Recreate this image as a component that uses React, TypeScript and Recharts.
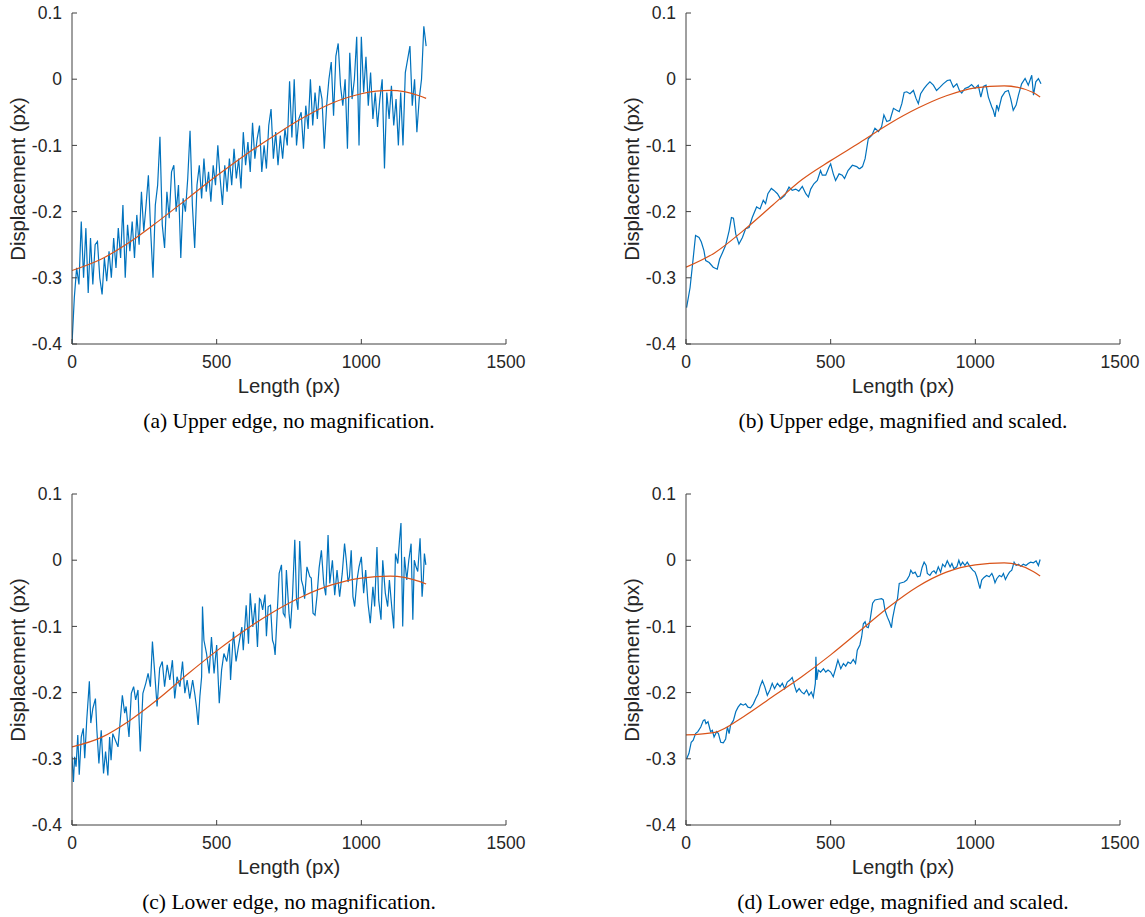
import React from "react";
import { Line, LineChart, XAxis, YAxis } from "recharts";

const BLUE = "#0072BD";
const ORANGE = "#D95319";
const AXIS = "#404040";
const TEXT = "#262626";

const X_TICKS = [0, 500, 1000, 1500];
const Y_TICKS = [-0.4, -0.3, -0.2, -0.1, 0, 0.1];

// sample positions of the polynomial fits
const FIT_X = [0, 100, 200, 300, 400, 500, 600, 700, 800, 900, 1000, 1100, 1200, 1224];

// (a) upper edge, no magnification
const upperRawX = [
  0, 8, 16, 24, 32, 40, 48, 56, 64, 72, 80, 88, 96, 104, 112, 120, 128, 136, 144, 152,
  160, 168, 176, 184, 192, 200, 208, 216, 224, 232, 240, 248, 256, 264, 272, 280, 288, 296, 304, 312,
  320, 328, 336, 344, 352, 360, 368, 376, 384, 392, 400, 408, 416, 424, 432, 440, 448, 456, 464, 472,
  480, 488, 496, 504, 512, 520, 528, 536, 544, 552, 560, 568, 576, 584, 592, 600, 608, 616, 624, 632,
  640, 648, 656, 664, 672, 680, 688, 696, 704, 712, 720, 728, 736, 744, 752, 760, 768, 776, 784, 792,
  800, 808, 816, 824, 832, 840, 848, 856, 864, 872, 880, 888, 896, 904, 912, 920, 928, 936, 944, 952,
  960, 968, 976, 984, 992, 1000, 1008, 1016, 1024, 1032, 1040, 1048, 1056, 1064, 1072, 1080, 1088, 1096, 1104, 1112,
  1120, 1128, 1136, 1144, 1152, 1160, 1168, 1176, 1184, 1192, 1200, 1208, 1216, 1224,
];
const upperRawY = [
  -0.4, -0.33, -0.285, -0.31, -0.215, -0.3, -0.225, -0.323, -0.24, -0.31, -0.25, -0.245, -0.3, -0.325, -0.27, -0.305, -0.26, -0.3, -0.24, -0.285,
  -0.225, -0.27, -0.19, -0.3, -0.22, -0.26, -0.215, -0.27, -0.205, -0.25, -0.17, -0.23, -0.19, -0.145, -0.23, -0.3, -0.19, -0.16, -0.087, -0.22,
  -0.255, -0.17, -0.21, -0.14, -0.13, -0.2, -0.16, -0.27, -0.18, -0.2, -0.15, -0.078, -0.19, -0.255, -0.16, -0.13, -0.18, -0.12, -0.17, -0.14,
  -0.185, -0.13, -0.16, -0.1, -0.15, -0.19, -0.13, -0.17, -0.12, -0.16, -0.105, -0.15, -0.12, -0.165, -0.08, -0.13, -0.095, -0.14, -0.066, -0.12,
  -0.09, -0.07, -0.14, -0.1, -0.135, -0.07, -0.045, -0.12, -0.08, -0.13, -0.085, -0.12, -0.075, -0.1, -0.003, -0.088, 0.0, -0.1, -0.06, -0.05,
  -0.105, -0.04, -0.075, 0.0, -0.07, -0.02, -0.06, -0.01, -0.03, -0.105, -0.04, 0.0, 0.026, -0.055, 0.035, 0.054, -0.01, -0.04, 0.0, -0.105,
  0.04, -0.03, 0.0, 0.064, -0.1, 0.064, -0.02, 0.034, -0.04, 0.01, -0.06, -0.02, -0.072, -0.03, 0.0, -0.135, -0.02, -0.06, -0.01, -0.07,
  -0.03, -0.1, -0.02, -0.1, 0.01, 0.03, 0.05, -0.04, 0.0, -0.08, -0.03, 0.0, 0.08, 0.05,
];
const upperRawFit = [-0.289, -0.272, -0.246, -0.214, -0.18, -0.146, -0.114, -0.085, -0.058, -0.036, -0.022, -0.017, -0.025, -0.029];

// (b) upper edge, magnified and scaled
const upperMagX = [
  2, 14, 24, 33, 45, 53, 62, 68, 80, 94, 108, 116, 126, 137, 149, 157, 164, 172, 183, 195,
  206, 218, 229, 244, 256, 267, 275, 283, 295, 304, 316, 327, 341, 356, 367, 379, 390, 402, 414, 423,
  431, 442, 454, 465, 471, 483, 494, 500, 509, 517, 529, 540, 548, 560, 575, 590, 598, 601, 610, 619,
  630, 642, 653, 665, 676, 684, 694, 705, 717, 728, 737, 746, 754, 763, 774, 786, 795, 803, 811, 823,
  832, 843, 855, 866, 878, 889, 903, 913, 924, 936, 945, 953, 964, 976, 987, 999, 1010, 1019, 1028, 1037,
  1045, 1057, 1062, 1068, 1074, 1080, 1091, 1103, 1114, 1122, 1131, 1141, 1149, 1160, 1172, 1183, 1195, 1201, 1209, 1218,
  1227,
];
const upperMagY = [
  -0.345, -0.315, -0.274, -0.236, -0.239, -0.246, -0.259, -0.274, -0.277, -0.284, -0.287, -0.272, -0.262, -0.251, -0.229, -0.209, -0.21, -0.234, -0.249, -0.239,
  -0.226, -0.224, -0.209, -0.193, -0.196, -0.183, -0.188, -0.173, -0.165, -0.168, -0.173, -0.181, -0.176, -0.163, -0.168, -0.166, -0.169, -0.162, -0.173, -0.178,
  -0.166, -0.158, -0.153, -0.138, -0.145, -0.145, -0.133, -0.128, -0.143, -0.153, -0.143, -0.145, -0.15, -0.138, -0.13, -0.132, -0.135, -0.135, -0.132, -0.12,
  -0.09, -0.085, -0.074, -0.079, -0.072, -0.054, -0.064, -0.062, -0.044, -0.047, -0.049, -0.037, -0.02, -0.019, -0.022, -0.017, -0.029, -0.037, -0.022, -0.014,
  -0.009, -0.004, -0.009, -0.017, -0.012, -0.007, -0.002, -0.001, -0.012, -0.007, -0.017, -0.021, -0.014, -0.012, -0.008, -0.014, -0.009, -0.027, -0.011, -0.009,
  -0.027, -0.042, -0.047, -0.057, -0.039, -0.047, -0.027, -0.019, -0.017, -0.029, -0.047, -0.039, -0.024, -0.007, 0.001, -0.009, 0.006, -0.024, -0.004, 0.001,
  -0.007,
];
const upperMagFit = [-0.284, -0.262, -0.228, -0.19, -0.152, -0.123, -0.096, -0.068, -0.044, -0.025, -0.013, -0.01, -0.02, -0.027];

// (c) lower edge, no magnification
const lowerRawX = [
  0, 5, 9, 14, 20, 25, 32, 39, 44, 51, 56, 60, 65, 72, 81, 86, 93, 101, 109, 116,
  124, 130, 135, 141, 150, 159, 167, 174, 182, 187, 197, 205, 213, 220, 228, 236, 245, 255, 263, 271,
  278, 286, 294, 303, 312, 320, 329, 338, 347, 355, 363, 373, 382, 390, 398, 407, 417, 425, 430, 436,
  442, 448, 451, 456, 465, 474, 482, 491, 500, 509, 517, 525, 535, 544, 548, 558, 567, 575, 587, 592,
  602, 610, 616, 625, 633, 641, 648,
  652, 659, 667, 672, 678, 686, 693, 698, 702, 707, 716, 724, 730, 736, 741, 750, 755, 762, 770, 776,
  781, 787, 793, 799, 804, 812, 822, 827, 833, 840, 847, 854, 862, 870, 877, 885, 891, 900, 908, 916,
  925, 934, 942, 948, 954, 959, 965, 971, 977, 985, 992, 1000, 1008, 1015, 1023, 1031, 1040, 1046, 1054, 1060,
  1068, 1074, 1083, 1091, 1097, 1106, 1112, 1118, 1126, 1132, 1137, 1143, 1149, 1157, 1164, 1172, 1178, 1183, 1189, 1195,
  1203, 1210, 1214, 1218, 1223,
];
const lowerRawY = [
  -0.297, -0.335, -0.297, -0.312, -0.264, -0.324, -0.267, -0.254, -0.299, -0.241, -0.209, -0.183, -0.246, -0.224, -0.209, -0.257, -0.307, -0.257, -0.322, -0.289,
  -0.325, -0.267, -0.302, -0.262, -0.272, -0.282, -0.241, -0.204, -0.231, -0.221, -0.267, -0.201, -0.191, -0.211, -0.196, -0.289, -0.201, -0.186, -0.171, -0.191,
  -0.123, -0.171, -0.221, -0.163, -0.153, -0.191, -0.158, -0.181, -0.151, -0.209, -0.176, -0.191, -0.153, -0.201, -0.181, -0.209, -0.181, -0.204, -0.221, -0.249,
  -0.206, -0.176, -0.07, -0.121, -0.141, -0.171, -0.116, -0.171, -0.128, -0.216, -0.166, -0.141, -0.153, -0.126, -0.181, -0.108, -0.153, -0.131, -0.101, -0.136,
  -0.068, -0.126, -0.05, -0.101, -0.065, -0.131, -0.058,
  -0.06, -0.075, -0.052, -0.115, -0.07, -0.068, -0.121, -0.128, -0.143, -0.1, -0.02, -0.007, -0.08, -0.085, -0.015, -0.08, -0.103, -0.055, 0.031, -0.06,
  -0.075, 0.029, -0.03, -0.04, -0.058, -0.01, -0.025, -0.027, -0.08, -0.083, -0.053, -0.012, 0.015, -0.035, -0.053, 0.038, -0.035, 0.0, -0.053, -0.015,
  -0.055, -0.02, 0.025, 0.0, -0.033, -0.025, 0.015, -0.055, -0.07, -0.03, -0.01, 0.005, -0.05, -0.015, -0.065, -0.095, -0.04, -0.07, 0.02, -0.06,
  -0.09, 0.0, -0.05, -0.07, -0.03, -0.075, -0.103, 0.01, -0.005, 0.031, 0.056, -0.1, 0.005, -0.03, 0.0, 0.025, -0.09, 0.0, -0.01, -0.017,
  0.033, -0.055, -0.03, 0.01, -0.007,
];
const lowerRawFit = [-0.282, -0.268, -0.242, -0.209, -0.172, -0.137, -0.105, -0.077, -0.054, -0.037, -0.027, -0.024, -0.032, -0.036];

// (d) lower edge, magnified and scaled
const lowerMagX = [
  2, 10, 18, 25, 33, 41, 51, 60, 65, 69, 76, 85, 91, 97, 106, 112, 120, 129, 137, 143,
  149, 154, 164, 172, 180, 189, 198, 206, 214, 223, 233, 241, 249, 256, 264, 272, 281, 290, 298, 306,
  316, 325, 333, 341, 350, 359, 367, 376, 382, 391, 399, 408, 417, 425, 433, 440, 447, 449, 452, 457,
  465, 475, 483, 491, 500, 509, 517, 525, 535, 544, 552, 560, 569, 578, 586, 592,
  601, 607, 613, 619, 625, 630, 636, 645, 653, 665, 676, 682, 688, 696, 703, 710, 714, 723, 731, 737,
  745, 754, 763, 772, 777, 784, 792, 800, 809, 816, 823, 830, 834, 843, 850, 857, 864, 872, 880, 887,
  895, 903, 913, 919, 926, 936, 943, 949, 956, 964, 972, 982, 991, 999, 1005, 1010, 1016, 1022, 1030, 1039,
  1048, 1057, 1062, 1068, 1074, 1083, 1091, 1097, 1104, 1111, 1118, 1126, 1134, 1141, 1149, 1157, 1166, 1175, 1183, 1191,
  1201, 1210, 1218, 1224,
];
const lowerMagY = [
  -0.3, -0.292, -0.275, -0.272, -0.262, -0.259, -0.252, -0.242, -0.241, -0.247, -0.244, -0.259, -0.257, -0.267, -0.259, -0.262, -0.275, -0.276, -0.27, -0.252,
  -0.262, -0.249, -0.242, -0.229, -0.222, -0.217, -0.219, -0.217, -0.222, -0.223, -0.217, -0.209, -0.202, -0.191, -0.182, -0.191, -0.204, -0.196, -0.186, -0.194,
  -0.186, -0.191, -0.186, -0.194, -0.184, -0.181, -0.177, -0.191, -0.199, -0.194, -0.199, -0.202, -0.196, -0.204, -0.199, -0.207, -0.186, -0.146, -0.181, -0.166,
  -0.169, -0.164, -0.169, -0.166, -0.169, -0.176, -0.164, -0.151, -0.164, -0.156, -0.16, -0.154, -0.156, -0.15, -0.156, -0.136,
  -0.128, -0.116, -0.096, -0.093, -0.101, -0.102, -0.091, -0.065, -0.06, -0.059, -0.058, -0.06, -0.076, -0.086, -0.093, -0.102, -0.088, -0.068, -0.058, -0.035,
  -0.034, -0.033, -0.03, -0.023, -0.015, -0.02, -0.018, -0.025, -0.024, -0.011, -0.003, -0.008, -0.02, -0.023, -0.018, -0.016, -0.02, -0.01, -0.018, -0.006,
  -0.01, -0.001, -0.01, -0.005, -0.013, -0.01, 0.0, -0.008, -0.003, -0.008, -0.003, -0.01, -0.015, -0.018, -0.025, -0.033, -0.043, -0.03, -0.026, -0.023,
  -0.025, -0.02, -0.025, -0.034, -0.028, -0.023, -0.025, -0.02, -0.029, -0.023, -0.018, -0.015, -0.003, -0.008, -0.006, -0.009, -0.006, -0.008, -0.005, -0.003,
  -0.004, -0.001, -0.008, 0.001,
];
const lowerMagFit = [-0.264, -0.26, -0.236, -0.206, -0.176, -0.143, -0.107, -0.071, -0.04, -0.018, -0.007, -0.004, -0.017, -0.024];

const zip = (xs: number[], ys: number[]) => xs.map((x, i) => ({ x, y: ys[i] }));

const fmtY = (v: number) => (v === 0 ? "0" : v.toFixed(1));

// each panel: plot box starts 72px in and 13px down, 434 x 331
const W = 560;
const PLOT_L = 72;
const PLOT_T = 13;
const PLOT_W = 434;
const PLOT_H = 331;
const BOTTOM = 40;

const labelFont = "'Liberation Sans', Arial, Helvetica, sans-serif";
const captionFont = "'Liberation Serif', 'Times New Roman', serif";

type PanelProps = {
  left: number;
  top: number;
  raw: { x: number; y: number }[];
  fit: { x: number; y: number }[];
  caption: string;
};

function Panel({ left, top, raw, fit, caption }: PanelProps) {
  const chartH = PLOT_T + PLOT_H + BOTTOM;
  return (
    <div style={{ position: "absolute", left, top, width: W, height: 440 }}>
      <LineChart
        width={W}
        height={chartH}
        margin={{ top: PLOT_T, left: PLOT_L - 1, right: W - PLOT_L - PLOT_W, bottom: BOTTOM - 1 }}
      >
        <XAxis
          type="number"
          dataKey="x"
          domain={[0, 1500]}
          ticks={X_TICKS}
          interval={0}
          height={1}
          tickSize={-5}
          tickMargin={17}
          stroke={AXIS}
          tick={{ fill: TEXT, fontSize: 17.5, fontFamily: labelFont }}
          allowDataOverflow
        />
        <YAxis
          type="number"
          dataKey="y"
          domain={[-0.4, 0.1]}
          ticks={Y_TICKS}
          interval={0}
          width={1}
          tickSize={-5}
          tickMargin={15}
          tickFormatter={fmtY}
          stroke={AXIS}
          tick={{ fill: TEXT, fontSize: 17.5, fontFamily: labelFont }}
          allowDataOverflow
        />
        <Line
          data={raw}
          dataKey="y"
          type="linear"
          stroke={BLUE}
          strokeWidth={1.2}
          dot={false}
          isAnimationActive={false}
        />
        <Line
          data={fit}
          dataKey="y"
          type="monotone"
          stroke={ORANGE}
          strokeWidth={1.2}
          dot={false}
          isAnimationActive={false}
        />
      </LineChart>
      <div
        style={{
          position: "absolute",
          left: 18,
          top: PLOT_T + PLOT_H / 2,
          transform: "translate(-50%, -50%) rotate(-90deg)",
          whiteSpace: "nowrap",
          fontFamily: labelFont,
          fontSize: 20.3,
          color: TEXT,
        }}
      >
        Displacement (px)
      </div>
      <div
        style={{
          position: "absolute",
          left: PLOT_L + PLOT_W / 2,
          top: 386,
          transform: "translate(-50%, -50%)",
          whiteSpace: "nowrap",
          fontFamily: labelFont,
          fontSize: 20.3,
          color: TEXT,
        }}
      >
        Length (px)
      </div>
      <div
        style={{
          position: "absolute",
          left: PLOT_L + PLOT_W / 2,
          top: 421,
          transform: "translate(-50%, -50%)",
          whiteSpace: "nowrap",
          fontFamily: captionFont,
          fontSize: 21.5,
          color: "#000",
        }}
      >
        {caption}
      </div>
    </div>
  );
}

export default function App() {
  return (
    <div style={{ position: "absolute", left: 0, top: 0, width: 1145, height: 917, background: "#fff" }}>
      <Panel
        left={0}
        top={0}
        raw={zip(upperRawX, upperRawY)}
        fit={zip(FIT_X, upperRawFit)}
        caption="(a) Upper edge, no magnification."
      />
      <Panel
        left={614}
        top={0}
        raw={zip(upperMagX, upperMagY)}
        fit={zip(FIT_X, upperMagFit)}
        caption="(b) Upper edge, magnified and scaled."
      />
      <Panel
        left={0}
        top={481}
        raw={zip(lowerRawX, lowerRawY)}
        fit={zip(FIT_X, lowerRawFit)}
        caption="(c) Lower edge, no magnification."
      />
      <Panel
        left={614}
        top={481}
        raw={zip(lowerMagX, lowerMagY)}
        fit={zip(FIT_X, lowerMagFit)}
        caption="(d) Lower edge, magnified and scaled."
      />
    </div>
  );
}
